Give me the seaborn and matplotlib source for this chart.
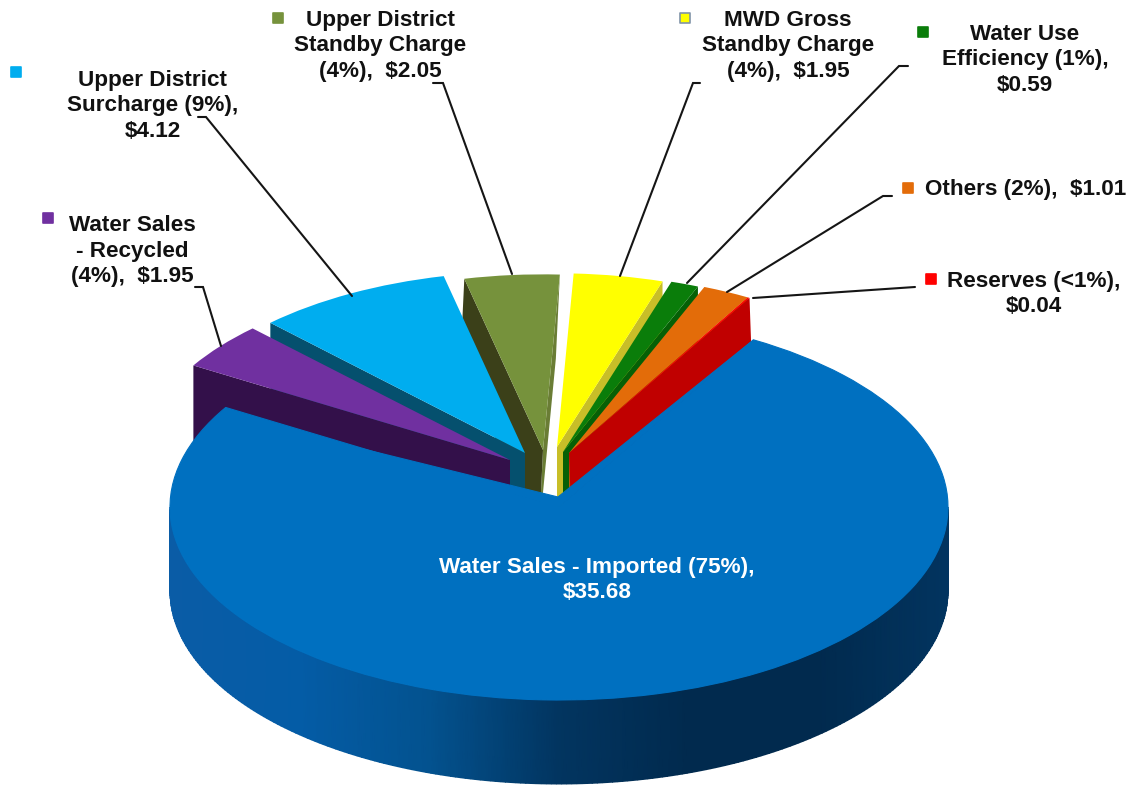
import numpy as np
import seaborn as sns
from matplotlib import pyplot as plt

WIDTH, HEIGHT = 1134, 785

# slices, counter clockwise from the right edge of the big one
categories = ['Reserves', 'Others', 'Water Use Efficiency', 'MWD Gross Standby Charge',
              'Upper District Standby Charge', 'Upper District Surcharge',
              'Water Sales - Recycled', 'Water Sales - Imported']
values = [0.04, 1.01, 0.59, 1.95, 2.05, 4.12, 1.95, 35.68]
top_colors = ['#FF0000', '#E36C09', '#0A7D0A', '#FFFF00', '#76923C', '#00ADEF', '#7030A0', '#0070C0']
right_colors = ['#C00000', '#B85A08', '#066006', '#C8BE28', '#6A7D35', '#05506E', '#33104A', '#0070C0']
left_colors = ['#C00000', '#B85A08', '#066006', '#C8BE28', '#3B4019', '#05506E', '#33104A', '#0070C0']

labels = ['Reserves (<1%),\n$0.04', 'Others (2%),  $1.01', 'Water Use\nEfficiency (1%),\n$0.59',
          'MWD Gross\nStandby Charge\n(4%),  $1.95', 'Upper District\nStandby Charge\n(4%),  $2.05',
          'Upper District\nSurcharge (9%),\n$4.12', 'Water Sales\n- Recycled\n(4%),  $1.95',
          'Water Sales - Imported (75%),\n$35.68']

# ellipse of the pie in pixels
CX, CY, RX, RY = 559, 507, 389, 193
DEPTH = 84

# where each slice was pulled to (pixels) and its radius
apex = [(569, 453), (569, 453), (563, 452), (557, 447), (543, 450), (525, 453), (510, 460), (CX, CY)]
radius = [0.928, 0.928, 0.925, 0.90, 0.91, 0.94, 0.95, 1.0]
side_shift = [3, 0, 0, 0, -4, 0, 0, 0]
z_base = [14, 12, 10, 8, 2, 4, 6, 16]

label_pos = [(1034, 294), (1026, 189), (1025, 60), (788, 46), (380, 46), (153, 106), (132, 251), (597, 580)]
marker_pos = [(931, 279), (908, 188), (923, 32), (685, 18), (278, 18), (16, 72), (48, 218)]
leaders = [
    [(915, 287), (753, 298)],
    [(892, 196), (883, 196), (727, 292)],
    [(908, 66), (899, 66), (687, 283)],
    [(700, 83), (693, 83), (620, 276)],
    [(433, 83), (443, 83), (512, 274)],
    [(198, 117), (206, 117), (352, 296)],
    [(195, 287), (203, 287), (221, 346)],
]

sns.set_theme(style='white')
plt.rcParams['font.family'] = ['Liberation Sans', 'DejaVu Sans']


def to_norm(px, py):
    return (px - CX) / RX, (CY - py) / RY


fig = plt.figure(figsize=(WIDTH / 100, HEIGHT / 100), dpi=100)
ax = fig.add_axes([0, 0, 1, 1])
wedges, _ = ax.pie(values, colors=sns.color_palette(top_colors), startangle=60, counterclock=True)
depth = DEPTH / RY

for i, w in enumerate(wedges):
    w.set_center(to_norm(*apex[i]))
    w.set_radius(radius[i])
    w.set_zorder(z_base[i] + 1)
    w.set_linewidth(0)

    if i == len(wedges) - 1:
        continue
    # radial side faces that look towards the viewer
    ox, oy = to_norm(*apex[i])
    shift = side_shift[i] / RX
    for theta, color, visible in ((w.theta1, right_colors[i], np.cos(np.radians(w.theta1)) > 0),
                                  (w.theta2, left_colors[i], np.cos(np.radians(w.theta2)) < 0)):
        if not visible:
            continue
        ex = ox + radius[i] * np.cos(np.radians(theta))
        ey = oy + radius[i] * np.sin(np.radians(theta))
        ax.fill([ox, ex, ex + shift, ox + shift], [oy, ey, ey - depth, oy - depth],
                color=color, lw=0, zorder=z_base[i])

# the big slice meets the others a bit above the ellipse centre
big = wedges[-1]
big.set_edgecolor(top_colors[-1])
big.set_linewidth(0.8)
tip_x, tip_y = to_norm(558, 497)
corner = np.radians(151)
right = np.radians(big.theta2)
ax.fill([np.cos(corner), tip_x, np.cos(right), 0], [np.sin(corner), tip_y, np.sin(right), 0],
        facecolor=top_colors[-1], edgecolor=top_colors[-1], lw=0.8, zorder=z_base[-1] + 1)

# shaded rim of the big slice
rim_cmap = sns.blend_palette(['#0A5CA6', '#045CA6', '#03528F', '#023560', '#012A4E', '#012A4E', '#02345F'],
                             as_cmap=True)
theta = np.radians(np.linspace(180, 360, 240))
rim_x = np.vstack([np.cos(theta), np.cos(theta)])
rim_y = np.vstack([np.sin(theta), np.sin(theta) - depth])
ax.pcolormesh(rim_x, rim_y, rim_x, shading='gouraud', cmap=rim_cmap, vmin=-1, vmax=1, zorder=z_base[-1])

ax.set_aspect('auto')
ax.set_xlim(-CX / RX, (WIDTH - CX) / RX)
ax.set_ylim((CY - HEIGHT) / RY, CY / RY)
ax.axis('off')

# labels, leader lines and colour squares go on a pixel overlay
ov = fig.add_axes([0, 0, 1, 1])
ov.set_xlim(0, WIDTH)
ov.set_ylim(HEIGHT, 0)
ov.axis('off')
ov.patch.set_alpha(0)

for i, text in enumerate(labels):
    ov.text(label_pos[i][0], label_pos[i][1], text, ha='center', va='center', fontsize=16.2,
            fontweight='bold', linespacing=1.28, color='white' if i == len(labels) - 1 else '#111111')

for pts in leaders:
    ov.plot([pt[0] for pt in pts], [pt[1] for pt in pts], color='#151515', lw=1.5, solid_joinstyle='miter')

for i, (mx, my) in enumerate(marker_pos):
    edge = '#8093A8' if categories[i] == 'MWD Gross Standby Charge' else top_colors[i]
    ov.scatter([mx], [my], marker='s', s=62, color=top_colors[i], edgecolors=edge, linewidths=1.2)

fig.savefig('out.png', dpi=100)
